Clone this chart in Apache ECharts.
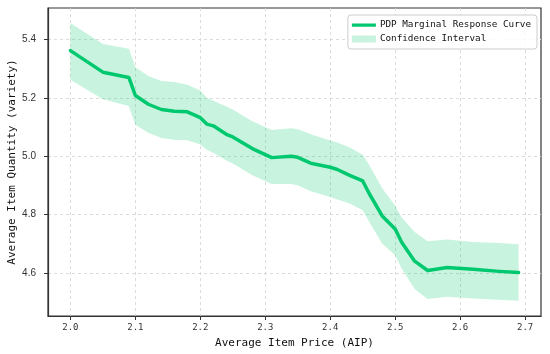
<!DOCTYPE html>
<html>
<head>
<meta charset="utf-8">
<script src="https://cdn.jsdelivr.net/npm/echarts@6/dist/echarts.min.js"></script>
<style>html,body{margin:0;padding:0;background:#fff}#c{width:550px;height:354px}</style>
</head>
<body>
<div id="c"></div>
<script>
const xValues = [2.00, 2.05, 2.09, 2.10, 2.12, 2.14, 2.16, 2.18, 2.20, 2.21, 2.22, 2.24, 2.25, 2.28, 2.31, 2.34, 2.35, 2.37, 2.40, 2.41, 2.43, 2.45, 2.46, 2.48, 2.50, 2.51, 2.53, 2.55, 2.58, 2.62, 2.66, 2.69];
const pdpCurve = [5.362, 5.288, 5.270, 5.208, 5.178, 5.160, 5.154, 5.152, 5.132, 5.110, 5.104, 5.075, 5.066, 5.026, 4.995, 5.000, 4.996, 4.976, 4.962, 4.955, 4.934, 4.915, 4.872, 4.795, 4.750, 4.705, 4.640, 4.608, 4.618, 4.612, 4.605, 4.601];
const ciUpper = [5.457, 5.385, 5.368, 5.305, 5.275, 5.258, 5.254, 5.245, 5.225, 5.200, 5.190, 5.170, 5.160, 5.120, 5.090, 5.096, 5.092, 5.075, 5.054, 5.048, 5.030, 5.005, 4.970, 4.890, 4.830, 4.790, 4.740, 4.708, 4.714, 4.706, 4.702, 4.698];
const ciLower = [5.262, 5.195, 5.172, 5.108, 5.080, 5.062, 5.056, 5.055, 5.040, 5.022, 5.012, 4.985, 4.975, 4.935, 4.905, 4.905, 4.900, 4.880, 4.860, 4.852, 4.838, 4.815, 4.775, 4.700, 4.660, 4.615, 4.545, 4.510, 4.518, 4.512, 4.508, 4.504];
const xTicks = [2.0, 2.1, 2.2, 2.3, 2.4, 2.5, 2.6, 2.7];
const yTicks = [4.6, 4.8, 5.0, 5.2, 5.4];

const lineColor = '#00c86e';
const bandColor = 'rgba(0,200,110,0.22)';
const mono = '"DejaVu Sans Mono", monospace';

const chart = echarts.init(document.getElementById('c'), null, {renderer: 'canvas'});
chart.setOption({
  animation: false,
  grid: {left: 48, top: 8, right: 9, bottom: 38, show: true, borderColor: '#333', borderWidth: 1.2, backgroundColor: 'transparent', containLabel: false, outerBoundsMode: 'none'},
  legend: {
    orient: 'vertical', right: 13, top: 15,
    padding: [5, 6, 5, 4], itemGap: 4,
    itemWidth: 24, itemHeight: 10,
    borderColor: '#ccc', borderWidth: 1, borderRadius: 3,
    backgroundColor: 'rgba(255,255,255,0.85)',
    textStyle: {fontFamily: mono, fontSize: 9.3, color: '#111', padding: [0,0,0,-1]},
    data: [
      {name: 'PDP Marginal Response Curve', icon: 'path://M0,0h0.01v0.01h-0.01z M0,3.5h24v3.2h-24z M23.99,9.99h0.01v0.01h-0.01z', itemStyle: {color: lineColor}},
      {name: 'Confidence Interval', icon: 'path://M0,0h0.01v0.01h-0.01z M0,1.5h24v7h-24z M23.99,9.99h0.01v0.01h-0.01z', itemStyle: {color: bandColor}}
    ]
  },
  xAxis: {
    type: 'value', min: 1.9655, max: 2.7245,
    name: 'Average Item Price (AIP)', nameLocation: 'middle', nameGap: 22, nameMoveOverlap: false,
    nameTextStyle: {fontFamily: mono, fontSize: 11, color: '#111'},
    axisLine: {show: true, onZero: false, lineStyle: {color: '#333', width: 1.2}},
    axisTick: {show: true, length: 4, customValues: xTicks, lineStyle: {color: '#333'}},
    axisLabel: {customValues: xTicks, formatter: v => v.toFixed(1), fontFamily: mono, fontSize: 9, color: '#333', margin: 7},
    splitLine: {show: true, lineStyle: {color: '#d4d4d4', type: [3, 3], width: 0.8}}
  },
  yAxis: {
    type: 'value', min: 4.452, max: 5.508,
    name: 'Average Item Quantity (variety)', nameLocation: 'middle', nameGap: 30, nameRotate: 90, nameMoveOverlap: false,
    nameTextStyle: {fontFamily: mono, fontSize: 11, color: '#111'},
    axisLine: {show: true, onZero: false, lineStyle: {color: '#333', width: 1.2}},
    axisTick: {show: true, length: 4, customValues: yTicks, lineStyle: {color: '#333'}},
    axisLabel: {customValues: yTicks, formatter: v => v.toFixed(1), fontFamily: 'Liberation Sans, Arial, sans-serif', fontSize: 10, color: '#333', margin: 12},
    splitLine: {show: true, lineStyle: {color: '#d4d4d4', type: [3, 3], width: 0.8}}
  },
  series: [
    {
      name: 'Confidence Interval', type: 'custom', silent: true, z: 1,
      data: xValues.map((x, i) => [x, ciLower[i], ciUpper[i]]),
      encode: {x: 0, y: [1, 2]},
      itemStyle: {color: bandColor},
      renderItem: function (params, api) {
        if (params.dataIndex !== 0) return null;
        const pts = [];
        for (let i = 0; i < xValues.length; i++) pts.push(api.coord([xValues[i], ciUpper[i]]));
        for (let i = xValues.length - 1; i >= 0; i--) pts.push(api.coord([xValues[i], ciLower[i]]));
        return {type: 'polygon', shape: {points: pts}, style: {fill: bandColor, stroke: null}};
      }
    },
    {
      name: 'PDP Marginal Response Curve', type: 'line', symbol: 'none',
      data: xValues.map((x, i) => [x, pdpCurve[i]]),
      lineStyle: {color: lineColor, width: 3.5, join: 'round', cap: 'round'}, itemStyle: {color: lineColor}, z: 3
    }
  ]
});
</script>
</body>
</html>
